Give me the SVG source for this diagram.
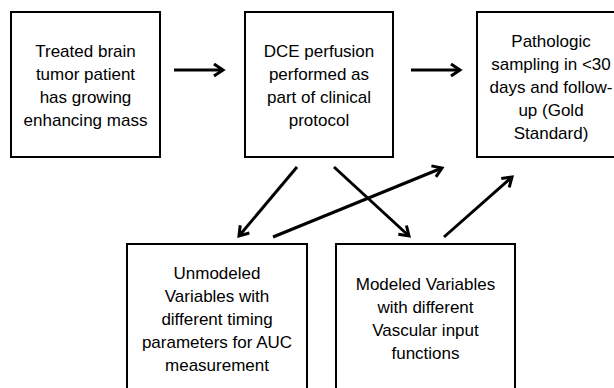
<svg xmlns="http://www.w3.org/2000/svg" width="614" height="388" viewBox="0 0 614 388">
<style>
.box{fill:#fff;stroke:#000;stroke-width:2}
.t{font-family:"Liberation Sans",Arial,sans-serif;font-size:17px;fill:#000;text-anchor:middle}
.c{stroke:#000;stroke-width:3;fill:none;marker-end:url(#ah)}
</style>
<defs>
<marker id="ah" markerUnits="userSpaceOnUse" viewBox="-12 -8 14 16" refX="0" refY="0" markerWidth="14" markerHeight="16" orient="auto" overflow="visible">
<path d="M-9,-6 L0,0 L-9,6" fill="none" stroke="#000" stroke-width="3"/>
</marker>
</defs>
<rect width="614" height="388" fill="#fff"/>
<g id="n1">
<rect class="box" x="11" y="12" width="149" height="145"/>
<text class="t"><tspan x="85.5" y="57">Treated brain</tspan><tspan x="85.5" y="80">tumor patient</tspan><tspan x="85.5" y="103">has growing</tspan><tspan x="85.5" y="126">enhancing mass</tspan></text>
</g>
<g id="n2">
<rect class="box" x="245" y="12" width="148" height="145"/>
<text class="t"><tspan x="319" y="57">DCE perfusion</tspan><tspan x="319" y="80">performed as</tspan><tspan x="319" y="103">part of clinical</tspan><tspan x="319" y="126">protocol</tspan></text>
</g>
<g id="n3">
<rect class="box" x="477" y="12" width="148" height="145"/>
<text class="t"><tspan x="551" y="47">Pathologic</tspan><tspan x="551" y="70">sampling in &lt;30</tspan><tspan x="551" y="93">days and follow-</tspan><tspan x="551" y="116">up (Gold</tspan><tspan x="551" y="139">Standard)</tspan></text>
</g>
<g id="n4">
<rect class="box" x="127" y="244" width="180" height="160"/>
<text class="t"><tspan x="217" y="279">Unmodeled</tspan><tspan x="217" y="302">Variables with</tspan><tspan x="217" y="325">different timing</tspan><tspan x="217" y="348">parameters for AUC</tspan><tspan x="217" y="371">measurement</tspan></text>
</g>
<g id="n5">
<rect class="box" x="336" y="244" width="179" height="160"/>
<text class="t"><tspan x="425.5" y="290">Modeled Variables</tspan><tspan x="425.5" y="313">with different</tspan><tspan x="425.5" y="336">Vascular input</tspan><tspan x="425.5" y="359">functions</tspan></text>
</g>
<g id="connectors">
<line class="c" x1="174" y1="70" x2="223" y2="70"/>
<line class="c" x1="411" y1="70" x2="460" y2="70"/>
<line class="c" x1="297" y1="167" x2="239" y2="236"/>
<line class="c" x1="334" y1="167" x2="409" y2="236"/>
<line class="c" x1="273" y1="237" x2="442" y2="168"/>
<line class="c" x1="444" y1="237" x2="512" y2="177"/>
</g>
</svg>
